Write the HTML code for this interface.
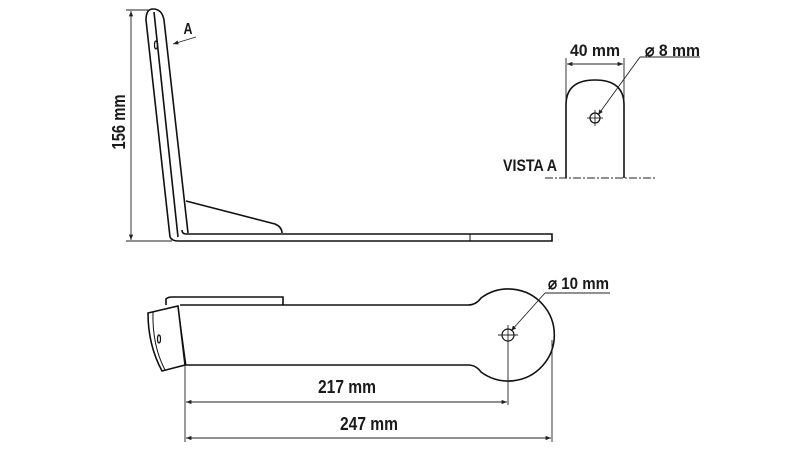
<!DOCTYPE html>
<html><head><meta charset="utf-8"><style>
html,body{margin:0;padding:0;background:#fff}
svg{display:block}
text{font-family:"Liberation Sans Narrow","Liberation Sans",sans-serif;font-weight:bold;fill:#1a1a1a}
</style></head><body>
<svg width="801" height="458" viewBox="0 0 801 458" xmlns="http://www.w3.org/2000/svg">
<defs>
<marker id="ar" viewBox="0 0 10 10" refX="10" refY="5" markerWidth="6" markerHeight="6" orient="auto-start-reverse"><path d="M0,1 L10,5 L0,9 z" fill="#222"/></marker>
</defs>
<g fill="none" stroke="#111" stroke-width="1.6">
<path d="M170,237 L146,20 Q146,9 153,9 Q162,9 164,20 L188,233"/>
<path d="M154,12 L178,237"/>
<path d="M170,237 Q172,241 178,241 L552,241 L552,234 L186,234 Q182,234 182,230"/>
<path d="M186,201 L275,224 Q282,227 282,233"/>
<ellipse cx="156" cy="45" rx="1.5" ry="4" stroke-width="1.2"/>
<line x1="470" y1="234" x2="470" y2="241" stroke-width="1"/>
<path d="M566,178 L566,105 Q566,80 595,80 Q624,80 624,105 L624,178"/>
<circle cx="595" cy="118" r="5" stroke-width="1.2"/>
<path d="M180,305 L468,305 Q476,305 481,298 A46,46 0 1 1 481,372 Q476,365 468,365 L185,365"/>
<path d="M166,305 L166,299 Q168,297 172,297 L283,297 L283,305"/>
<path d="M148,313 L178,306 L185,365 L162,371 Q148,345 148,313 Z"/>
<path d="M153,312 Q152,345 165,370" stroke-width="1"/>
<path d="M178,306 L186,365" stroke-width="1"/>
<circle cx="508" cy="335" r="6" stroke-width="1.2"/>
<ellipse cx="159" cy="339" rx="1.5" ry="4" stroke-width="1.2"/>
</g>
<g stroke="#222" stroke-width="0.9" fill="none">
<line x1="126" y1="10" x2="150" y2="10"/>
<line x1="126" y1="241" x2="172" y2="241"/>
<line x1="131" y1="11" x2="131" y2="240" marker-start="url(#ar)" marker-end="url(#ar)"/>
<line x1="196" y1="37" x2="173" y2="44" marker-end="url(#ar)"/>
<line x1="566" y1="58" x2="566" y2="100"/>
<line x1="624" y1="58" x2="624" y2="100"/>
<line x1="567" y1="64" x2="623" y2="64" marker-start="url(#ar)" marker-end="url(#ar)"/>
<line x1="545" y1="178" x2="655" y2="178" stroke-dasharray="8,2,2,2"/>
<line x1="700" y1="57" x2="640" y2="57"/>
<line x1="640" y1="57" x2="598" y2="115" marker-end="url(#ar)"/>
<line x1="587" y1="118" x2="603" y2="118"/><line x1="595" y1="110" x2="595" y2="126"/>
<line x1="610" y1="293" x2="545" y2="293"/>
<line x1="545" y1="293" x2="511" y2="331" marker-end="url(#ar)"/>
<line x1="498" y1="335" x2="518" y2="335"/><line x1="508" y1="325" x2="508" y2="405"/>
<line x1="185" y1="366" x2="185" y2="442"/>
<line x1="552" y1="340" x2="552" y2="442"/>
<line x1="186" y1="402" x2="507" y2="402" marker-start="url(#ar)" marker-end="url(#ar)"/>
<line x1="186" y1="438" x2="551" y2="438" marker-start="url(#ar)" marker-end="url(#ar)"/>
</g>
<text x="0" y="0" font-size="18" text-anchor="middle" textLength="55" lengthAdjust="spacingAndGlyphs" transform="translate(125,122) rotate(-90)">156 mm</text>
<text x="188" y="34" font-size="16" text-anchor="middle" textLength="9" lengthAdjust="spacingAndGlyphs">A</text>
<text x="570" y="56" font-size="17" textLength="50" lengthAdjust="spacingAndGlyphs">40 mm</text>
<text x="645" y="56" font-size="17" textLength="55" lengthAdjust="spacingAndGlyphs">⌀ 8 mm</text>
<text x="503" y="171" font-size="17" textLength="54" lengthAdjust="spacingAndGlyphs">VISTA A</text>
<text x="548" y="289" font-size="17" textLength="61" lengthAdjust="spacingAndGlyphs">⌀ 10 mm</text>
<text x="318" y="393" font-size="18" textLength="58" lengthAdjust="spacingAndGlyphs">217 mm</text>
<text x="340" y="430" font-size="18" textLength="58" lengthAdjust="spacingAndGlyphs">247 mm</text>
</svg>
</body></html>
